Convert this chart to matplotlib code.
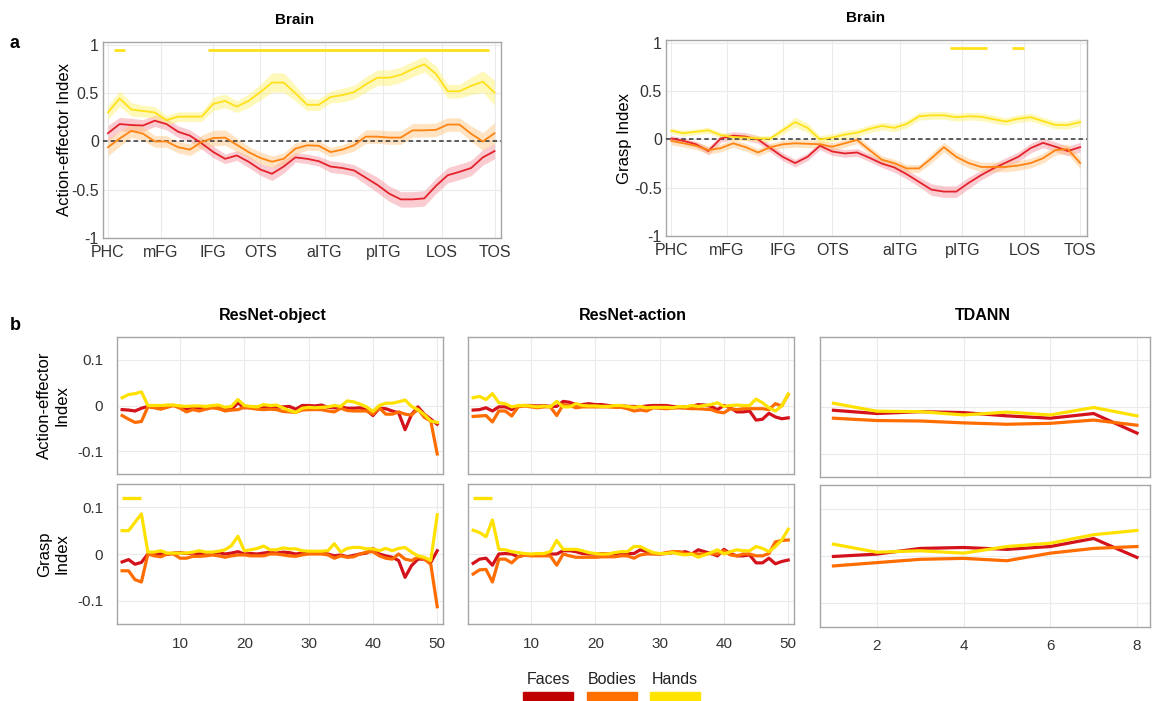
import matplotlib.pyplot as plt
from matplotlib.patches import Rectangle
import numpy as np

plt.rcParams['font.family'] = ['Liberation Sans', 'DejaVu Sans']

# ---- brain (panel a) ----
roi_labels = ['PHC', 'mFG', 'IFG', 'OTS', 'aITG', 'pITG', 'LOS', 'TOS']
roi_pos = [0, 4.5, 9, 13, 18.5, 23.5, 28.5, 33]

ae_faces = [0.085, 0.18, 0.17, 0.165, 0.215, 0.18, 0.10, 0.06, -0.02, -0.11, -0.18, -0.145,
            -0.21, -0.29, -0.335, -0.26, -0.165, -0.18, -0.205, -0.26, -0.275, -0.30, -0.375,
            -0.45, -0.54, -0.60, -0.60, -0.59, -0.46, -0.35, -0.315, -0.275, -0.165, -0.10]
ae_bodies = [-0.06, 0.03, 0.11, 0.08, 0.0, 0.0, -0.06, -0.085, -0.005, 0.035, 0.04, -0.035,
             -0.11, -0.17, -0.21, -0.18, -0.075, -0.04, -0.045, -0.11, -0.085, -0.04, 0.05,
             0.05, 0.04, 0.04, 0.115, 0.115, 0.12, 0.175, 0.175, 0.08, 0.0, 0.085]
ae_hands = [0.30, 0.445, 0.33, 0.315, 0.30, 0.22, 0.257, 0.257, 0.257, 0.39, 0.42, 0.36,
            0.42, 0.51, 0.61, 0.61, 0.50, 0.38, 0.38, 0.46, 0.48, 0.51, 0.59, 0.66, 0.66,
            0.69, 0.75, 0.80, 0.70, 0.52, 0.52, 0.575, 0.62, 0.505]
ae_faces_err = [0.08, 0.07, 0.07, 0.06, 0.06, 0.06, 0.06, 0.06, 0.06, 0.06, 0.05, 0.05,
                0.06, 0.06, 0.07, 0.07, 0.05, 0.05, 0.05, 0.06, 0.06, 0.06, 0.07, 0.08,
                0.08, 0.08, 0.08, 0.08, 0.08, 0.08, 0.08, 0.08, 0.08, 0.08]
ae_bodies_err = [0.09, 0.08, 0.07, 0.07, 0.06, 0.06, 0.06, 0.06, 0.07, 0.08, 0.08, 0.07,
                 0.06, 0.06, 0.06, 0.06, 0.06, 0.05, 0.05, 0.05, 0.05, 0.06, 0.07, 0.07,
                 0.07, 0.07, 0.07, 0.07, 0.07, 0.07, 0.07, 0.08, 0.09, 0.11]
ae_hands_err = [0.07, 0.08, 0.07, 0.06, 0.06, 0.05, 0.05, 0.05, 0.05, 0.07, 0.07, 0.06,
                0.07, 0.08, 0.10, 0.10, 0.08, 0.06, 0.06, 0.06, 0.07, 0.07, 0.08, 0.08,
                0.08, 0.08, 0.08, 0.08, 0.08, 0.07, 0.07, 0.09, 0.11, 0.13]
ae_sig = [(0.5, 1.5), (8.5, 32.5)]

gr_faces = [0.01, -0.015, -0.05, -0.12, 0.01, 0.04, 0.03, 0.0, -0.09, -0.18, -0.245, -0.18,
            -0.065, -0.125, -0.145, -0.135, -0.19, -0.25, -0.29, -0.36, -0.44, -0.52, -0.54,
            -0.54, -0.45, -0.37, -0.30, -0.24, -0.18, -0.09, -0.035, -0.075, -0.12, -0.08]
gr_bodies = [-0.015, -0.04, -0.065, -0.11, -0.09, -0.04, -0.08, -0.135, -0.08, -0.05,
             -0.04, -0.045, -0.05, -0.075, -0.04, -0.005, -0.11, -0.21, -0.245, -0.30,
             -0.30, -0.195, -0.08, -0.18, -0.245, -0.285, -0.285, -0.285, -0.27, -0.245,
             -0.195, -0.11, -0.10, -0.245]
gr_hands = [0.09, 0.065, 0.08, 0.095, 0.045, 0.025, 0.02, 0.01, 0.01, 0.095, 0.18, 0.12,
            0.0, 0.02, 0.05, 0.07, 0.11, 0.14, 0.12, 0.16, 0.24, 0.25, 0.25, 0.23, 0.24,
            0.235, 0.21, 0.185, 0.215, 0.23, 0.19, 0.15, 0.15, 0.18]
gr_faces_err = [0.03, 0.03, 0.03, 0.04, 0.04, 0.04, 0.04, 0.04, 0.04, 0.04, 0.04, 0.04,
                0.04, 0.04, 0.04, 0.04, 0.04, 0.04, 0.05, 0.05, 0.05, 0.06, 0.06, 0.06,
                0.06, 0.05, 0.05, 0.05, 0.05, 0.05, 0.05, 0.05, 0.05, 0.05]
gr_bodies_err = [0.04, 0.04, 0.04, 0.04, 0.04, 0.04, 0.04, 0.04, 0.04, 0.04, 0.04, 0.04,
                 0.04, 0.04, 0.04, 0.04, 0.04, 0.04, 0.04, 0.04, 0.04, 0.05, 0.05, 0.05,
                 0.05, 0.05, 0.05, 0.05, 0.05, 0.05, 0.05, 0.05, 0.05, 0.06]
gr_hands_err = [0.03, 0.03, 0.03, 0.03, 0.03, 0.03, 0.03, 0.03, 0.03, 0.04, 0.05, 0.05,
                0.04, 0.04, 0.04, 0.04, 0.04, 0.04, 0.04, 0.04, 0.04, 0.04, 0.04, 0.04,
                0.04, 0.04, 0.04, 0.04, 0.04, 0.04, 0.04, 0.04, 0.04, 0.04]
gr_sig = [(22.5, 25.5), (27.5, 28.5)]

# ---- networks (panel b) ----
layers50 = list(range(1, 51))
layers8 = list(range(1, 9))

obj_ae_faces = [-0.009, -0.01, -0.012, -0.006, -0.002, -0.002, -0.002, 0.0, 0.0, -0.002,
                -0.008, -0.004, -0.006, -0.003, -0.002, -0.003, -0.006, -0.009, 0.006, -0.005,
                -0.004, -0.004, -0.005, -0.003, -0.004, -0.003, -0.002, -0.008, 0.0, 0.0,
                -0.001, 0.001, -0.004, -0.005, -0.003, -0.006, -0.006, -0.005, -0.01, -0.022,
                -0.006, -0.007, -0.012, -0.016, -0.053, -0.02, -0.003, -0.019, -0.03, -0.041]
obj_ae_bodies = [-0.022, -0.03, -0.037, -0.035, -0.003, -0.005, -0.008, -0.004, 0.0, -0.006,
                 -0.014, -0.009, -0.012, -0.008, -0.005, -0.007, -0.012, -0.01, -0.009, -0.004,
                 -0.006, -0.008, -0.009, -0.008, -0.009, -0.013, -0.014, -0.015, -0.01, -0.009,
                 -0.009, -0.009, -0.012, -0.014, -0.006, -0.011, -0.012, -0.012, -0.012, -0.019,
                 -0.005, -0.019, -0.019, -0.014, -0.019, -0.021, -0.008, -0.026, -0.034, -0.106]
obj_ae_hands = [0.017, 0.024, 0.026, 0.03, 0.0, 0.0, 0.0, 0.001, 0.001, -0.001,
                -0.002, -0.001, -0.001, -0.002, 0.0, 0.001, -0.004, -0.002, 0.013, 0.0,
                -0.002, -0.003, 0.002, 0.0, 0.001, -0.005, -0.011, -0.015, -0.006, -0.004,
                -0.005, -0.004, -0.003, 0.0, -0.002, 0.01, 0.008, 0.003, -0.003, -0.013,
                0.0, 0.005, 0.005, 0.008, 0.012, -0.002, -0.009, -0.02, -0.034, -0.037]

obj_gr_faces = [-0.017, -0.012, -0.022, -0.018, 0.0, 0.001, 0.0, -0.001, 0.002, 0.003,
                0.001, 0.002, 0.0, 0.002, 0.003, 0.003, 0.0, 0.002, 0.005, 0.0,
                0.001, 0.0, 0.002, 0.004, 0.002, 0.004, 0.003, 0.0, 0.002, 0.002,
                0.002, 0.003, 0.0, -0.004, -0.002, -0.006, -0.003, 0.0, 0.002, 0.012,
                0.0, -0.004, -0.007, -0.014, -0.05, -0.025, -0.011, -0.011, -0.018, 0.007]
obj_gr_bodies = [-0.036, -0.036, -0.055, -0.06, 0.0, -0.004, -0.006, 0.0, 0.0, -0.009,
                 -0.009, -0.005, -0.005, -0.004, -0.002, -0.004, -0.007, -0.004, -0.002, -0.002,
                 -0.004, -0.004, -0.004, 0.0, 0.0, -0.002, -0.004, -0.005, -0.002, 0.0,
                 0.0, 0.0, -0.002, -0.009, -0.004, -0.007, -0.006, 0.0, 0.004, 0.005,
                 -0.004, -0.009, -0.011, 0.0, -0.011, -0.014, -0.007, -0.011, -0.022, -0.113]
obj_gr_hands = [0.05, 0.05, 0.068, 0.086, 0.004, 0.004, 0.007, 0.002, 0.002, 0.002,
                0.002, 0.004, 0.007, 0.004, 0.004, 0.006, 0.009, 0.018, 0.038, 0.007,
                0.009, 0.012, 0.017, 0.009, 0.009, 0.013, 0.011, 0.011, 0.007, 0.006,
                0.006, 0.006, 0.007, 0.022, 0.004, 0.012, 0.014, 0.014, 0.011, 0.011,
                0.007, 0.012, 0.007, 0.012, 0.014, 0.004, -0.004, -0.007, -0.014, 0.084]
obj_gr_sig = [(1, 4)]

act_ae_faces = [-0.01, -0.009, -0.005, -0.012, -0.003, -0.003, -0.009, -0.001, 0.0, 0.0,
                -0.001, 0.0, -0.002, -0.002, 0.009, 0.007, 0.002, 0.002, 0.004, 0.002,
                0.002, 0.0, -0.001, 0.0, -0.002, -0.002, -0.003, -0.001, 0.0, 0.0,
                0.0, -0.002, -0.003, -0.003, -0.002, 0.002, 0.001, -0.002, -0.009, 0.0,
                -0.005, -0.014, -0.014, -0.012, -0.032, -0.03, -0.017, -0.025, -0.029, -0.027]
act_ae_bodies = [-0.024, -0.023, -0.022, -0.036, -0.012, -0.012, -0.023, -0.003, -0.001, -0.003,
                 -0.005, -0.003, -0.003, -0.022, 0.002, 0.0, -0.005, -0.003, -0.003, -0.003,
                 -0.003, -0.003, -0.004, -0.004, -0.007, -0.012, -0.01, -0.012, -0.005, -0.006,
                 -0.007, -0.006, -0.005, -0.006, -0.007, -0.007, -0.008, -0.009, -0.014, -0.016,
                 -0.007, -0.009, -0.007, -0.007, -0.007, -0.007, -0.009, 0.004, -0.001, 0.024]
act_ae_hands = [0.017, 0.02, 0.013, 0.026, 0.006, 0.004, -0.003, 0.0, 0.0, -0.001,
                -0.003, -0.001, -0.003, 0.009, -0.003, -0.003, 0.004, 0.0, -0.001, -0.001,
                -0.002, -0.002, 0.0, 0.0, -0.002, -0.004, -0.002, -0.005, -0.004, -0.004,
                -0.004, -0.005, -0.002, -0.003, 0.0, -0.002, 0.0, 0.002, 0.006, -0.002,
                0.0, 0.001, 0.0, 0.0, 0.014, 0.006, -0.005, -0.012, -0.001, 0.025]

act_gr_faces = [-0.02, -0.011, -0.009, -0.024, 0.0, 0.001, 0.0, -0.006, -0.002, -0.002,
                -0.002, -0.002, 0.0, 0.0, 0.007, 0.007, 0.005, 0.001, 0.0, 0.0,
                0.001, 0.0, 0.0, 0.002, 0.001, 0.001, 0.009, 0.005, 0.001, 0.0,
                0.001, 0.003, 0.003, 0.005, 0.0, 0.009, 0.005, 0.001, -0.004, 0.01,
                0.001, -0.004, -0.004, -0.002, -0.019, -0.019, -0.009, -0.021, -0.016, -0.013]
act_gr_bodies = [-0.043, -0.034, -0.033, -0.06, -0.011, -0.011, -0.019, -0.006, -0.002, -0.004,
                 -0.004, -0.004, -0.004, -0.024, 0.0, -0.004, -0.007, -0.007, -0.007, -0.007,
                 -0.006, -0.006, -0.006, -0.004, -0.004, -0.009, -0.002, 0.0, 0.0, 0.0,
                 0.003, 0.005, 0.005, 0.001, 0.0, 0.0, 0.0, 0.001, 0.0, 0.007,
                 -0.002, -0.004, 0.0, 0.0, -0.004, -0.004, 0.001, 0.026, 0.029, 0.03]
act_gr_hands = [0.051, 0.046, 0.037, 0.073, 0.01, 0.009, 0.005, 0.003, 0.001, 0.0,
                0.001, 0.001, 0.005, 0.029, 0.01, 0.01, 0.01, 0.007, 0.003, 0.001,
                0.0, 0.0, 0.003, 0.005, 0.005, 0.016, 0.016, 0.009, 0.003, 0.001,
                0.001, 0.003, 0.0, -0.002, 0.0, -0.007, -0.002, 0.003, 0.009, 0.0,
                0.005, 0.009, 0.007, 0.007, 0.016, 0.012, 0.005, 0.016, 0.03, 0.053]
act_gr_sig = [(1, 4)]

tdann_ae_faces = [-0.007, -0.014, -0.01, -0.012, -0.019, -0.024, -0.014, -0.056]
tdann_ae_bodies = [-0.024, -0.029, -0.03, -0.034, -0.037, -0.035, -0.028, -0.039]
tdann_ae_hands = [0.008, -0.009, -0.01, -0.017, -0.011, -0.017, -0.001, -0.019]
tdann_gr_faces = [-0.001, 0.004, 0.016, 0.018, 0.014, 0.02, 0.037, -0.003]
tdann_gr_bodies = [-0.021, -0.014, -0.007, -0.005, -0.01, 0.006, 0.016, 0.02]
tdann_gr_hands = [0.025, 0.008, 0.011, 0.006, 0.02, 0.027, 0.045, 0.054]

categories = ['Faces', 'Bodies', 'Hands']

# colours
brain_cols = ['#E4222C', '#FF8412', '#FFE11A']
brain_fill = ['#F58F99', '#FFC27A', '#FFF06A']
net_cols = ['#D4121C', '#FF6C00', '#FFE100']
legend_cols = ['#C00000', '#FF6F00', '#FFE400']

W, H = 1165, 701
fig = plt.figure(figsize=(W / 100, H / 100), dpi=100)


def px_axes(left, top, right, bottom):
    return fig.add_axes([left / W, 1 - bottom / H, (right - left) / W, (bottom - top) / H])


def style(ax, fs, ypad, xpad):
    for s in ax.spines.values():
        s.set_color('#A6A6A6')
        s.set_linewidth(1.0)
    ax.grid(True, color='#EBEBEB', linewidth=0.8)
    ax.set_axisbelow(True)
    ax.tick_params(length=0, labelsize=fs, colors='#333333')
    ax.tick_params(axis='y', pad=ypad)
    ax.tick_params(axis='x', pad=xpad)


def brain_panel(ax, means, errs, sig, ylabel, lab_x, title_x):
    x = np.arange(len(means[0]))
    for m, e, c, fc in zip(means, errs, brain_cols, brain_fill):
        m = np.array(m)
        e = np.array(e)
        ax.fill_between(x, m - e, m + e, color=fc, alpha=0.45, linewidth=0)
    ax.axhline(0, color='#333333', linestyle=(0, (3, 2)), linewidth=1.1, zorder=3)
    for m, c in zip(means, brain_cols):
        ax.plot(x, m, color=c, linewidth=1.3, zorder=4)
    for a, b in sig:
        ax.plot([a, b], [0.95, 0.95], color='#FFE11A', linewidth=2.0, solid_capstyle='butt')
    ax.set_xlim(-0.42, 33.55)
    ax.set_ylim(-1.0, 1.03)
    ax.set_yticks([-1, -0.5, 0, 0.5, 1])
    ax.set_yticklabels(['-1', '-0.5', '0', '0.5', '1'])
    ax.set_xticks(roi_pos)
    ax.set_xticklabels(roi_labels)
    style(ax, 11.5, 3, 5)
    ax.set_ylabel(ylabel, fontsize=12)
    ax.yaxis.set_label_coords(lab_x, 0.5)
    ax.text(title_x, 1.11, 'Brain', transform=ax.transAxes, ha='center', va='center',
            fontsize=11, fontweight='bold')


brain_panel(px_axes(103, 42, 501, 238),
            [ae_faces, ae_bodies, ae_hands], [ae_faces_err, ae_bodies_err, ae_hands_err],
            ae_sig, 'Action-effector Index', -0.078, 0.482)
brain_panel(px_axes(666, 40, 1087, 236),
            [gr_faces, gr_bodies, gr_hands], [gr_faces_err, gr_bodies_err, gr_hands_err],
            gr_sig, 'Grasp Index', -0.081, 0.475)


def net_panel(ax, x, series, sig, xlim, xticks, show_x, show_y):
    for s, c in zip(series, net_cols):
        ax.plot(x, s, color=c, linewidth=2.3)
    for a, b in sig:
        ax.plot([a, b], [0.12, 0.12], color='#FFE100', linewidth=2.4, solid_capstyle='butt')
    ax.set_xlim(*xlim)
    ax.set_ylim(-0.15, 0.15)
    ax.set_yticks([-0.1, 0, 0.1])
    ax.set_xticks(xticks)
    style(ax, 11, 10, 9)
    if show_y:
        ax.set_yticklabels(['-0.1', '0', '0.1'])
    else:
        ax.set_yticklabels([])
    if not show_x:
        ax.set_xticklabels([])


cols_px = [(117, 443), (468, 794), (820, 1150)]
rows_px = [(337, 474), (484, 624)]
titles = ['ResNet-object', 'ResNet-action', 'TDANN']
title_x = [0.479, 0.506, 0.494]
net_data = [
    [[obj_ae_faces, obj_ae_bodies, obj_ae_hands], [obj_gr_faces, obj_gr_bodies, obj_gr_hands]],
    [[act_ae_faces, act_ae_bodies, act_ae_hands], [act_gr_faces, act_gr_bodies, act_gr_hands]],
    [[tdann_ae_faces, tdann_ae_bodies, tdann_ae_hands], [tdann_gr_faces, tdann_gr_bodies, tdann_gr_hands]],
]
net_sig = [[[], obj_gr_sig], [[], act_gr_sig], [[], []]]

for j, (l, r) in enumerate(cols_px):
    for i, (t, b) in enumerate(rows_px):
        if j == 2:
            t, b = [(337, 477), (485, 627)][i]
            x, xlim, xticks = layers8, (0.69, 8.3), [2, 4, 6, 8]
        else:
            x, xlim, xticks = layers50, (0.2, 50.9), [10, 20, 30, 40, 50]
        ax = px_axes(l, t, r, b)
        net_panel(ax, x, net_data[j][i], net_sig[j][i], xlim, xticks, i == 1, j == 0)
        if j == 0:
            ax.set_ylabel(['Action-effector\nIndex', 'Grasp\nIndex'][i], fontsize=12)
            ax.yaxis.set_label_coords(-0.146, 0.5)
        if i == 0:
            ax.text(title_x[j], 1.155, titles[j], transform=ax.transAxes, ha='center',
                    va='center', fontsize=11.5, fontweight='bold')

# panel letters
fig.text(14 / W, 1 - 44 / H, 'a', fontsize=13, fontweight='bold', ha='center', va='center')
fig.text(15 / W, 1 - 325 / H, 'b', fontsize=13, fontweight='bold', ha='center', va='center')

# legend: label above a colour bar
leg_x = [(523, 573), (587, 637), (650, 700)]
for name, c, (a, b) in zip(categories, legend_cols, leg_x):
    fig.text((a + b) / 2 / W, 1 - 680 / H, name, fontsize=11.5, color='#222222',
             ha='center', va='center')
    fig.patches.append(Rectangle((a / W, 1 - 700 / H), (b - a) / W, 8 / H,
                                 transform=fig.transFigure, color=c, figure=fig))

fig.savefig('out.png', dpi=100)
